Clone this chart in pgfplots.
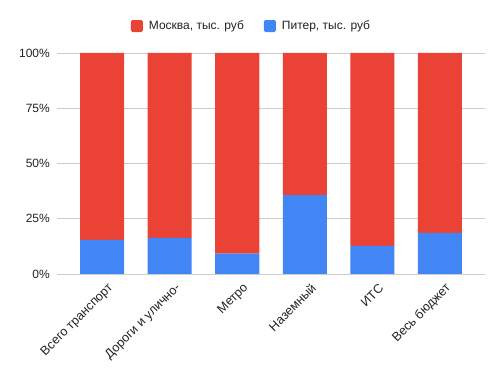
\documentclass[border=0pt]{standalone}
\usepackage{pgfplots}
\pgfplotsset{compat=1.18}
\usepackage{fontspec}
\setmainfont{Liberation Sans}
\definecolor{gred}{HTML}{EA4335}
\definecolor{gblue}{HTML}{4285F4}
\definecolor{gtext}{HTML}{222222}
\begin{document}
\begin{tikzpicture}
\useasboundingbox (0,0) rectangle (503bp,378bp);
\begin{axis}[
  at={(57bp,104bp)}, anchor=south west,
  scale only axis, width=428bp, height=221bp,
  ybar stacked, bar width=44bp,
  xmin=-0.67, xmax=5.67, ymin=0, ymax=100,
  xtick=data,
  xticklabels={Всего транспорт,Дороги и улично-,Метро,Наземный,ИТС,Весь бюджет},
  xticklabel style={xshift=9bp, yshift=-12bp, rotate=45, anchor=east, font=\fontsize{12.6bp}{14bp}\selectfont, text=gtext, inner sep=0bp},
  ytick={0,25,50,75,100},
  yticklabel={\pgfmathprintnumber{\tick}\%},
  yticklabel style={font=\fontsize{12bp}{14bp}\selectfont, text=gtext, inner sep=0bp, xshift=-7bp},
  /pgf/number format/assume math mode=true,
  ymajorgrids, grid style={draw=black!20, line width=0.7bp},
  axis line style={draw=none},
  major tick length=0pt,
  legend columns=2,
  legend style={at={(0.4544,1.122)}, anchor=center, draw=none, font=\fontsize{12bp}{14bp}\selectfont, text=gtext,
    /tikz/every odd column/.append style={column sep=4bp},
    /tikz/every even column/.append style={column sep=18bp}},
  legend image code/.code={\fill[#1, rounded corners=1.5bp] (0bp,-6bp) rectangle (12bp,6bp);},
  legend cell align=left,
  reverse legend,
]
\addplot[fill=gblue, draw=none] coordinates {(0,15.4) (1,16.3) (2,9.2) (3,35.7) (4,12.7) (5,18.6)};
\addplot[fill=gred, draw=none] coordinates {(0,84.6) (1,83.7) (2,90.8) (3,64.3) (4,87.3) (5,81.4)};
\legend{Питер{,} тыс. руб,Москва{,} тыс. руб}
\draw[black!80, line width=0.9bp] (axis cs:-0.67,0) -- (axis cs:5.67,0);
\end{axis}
\end{tikzpicture}
\end{document}
